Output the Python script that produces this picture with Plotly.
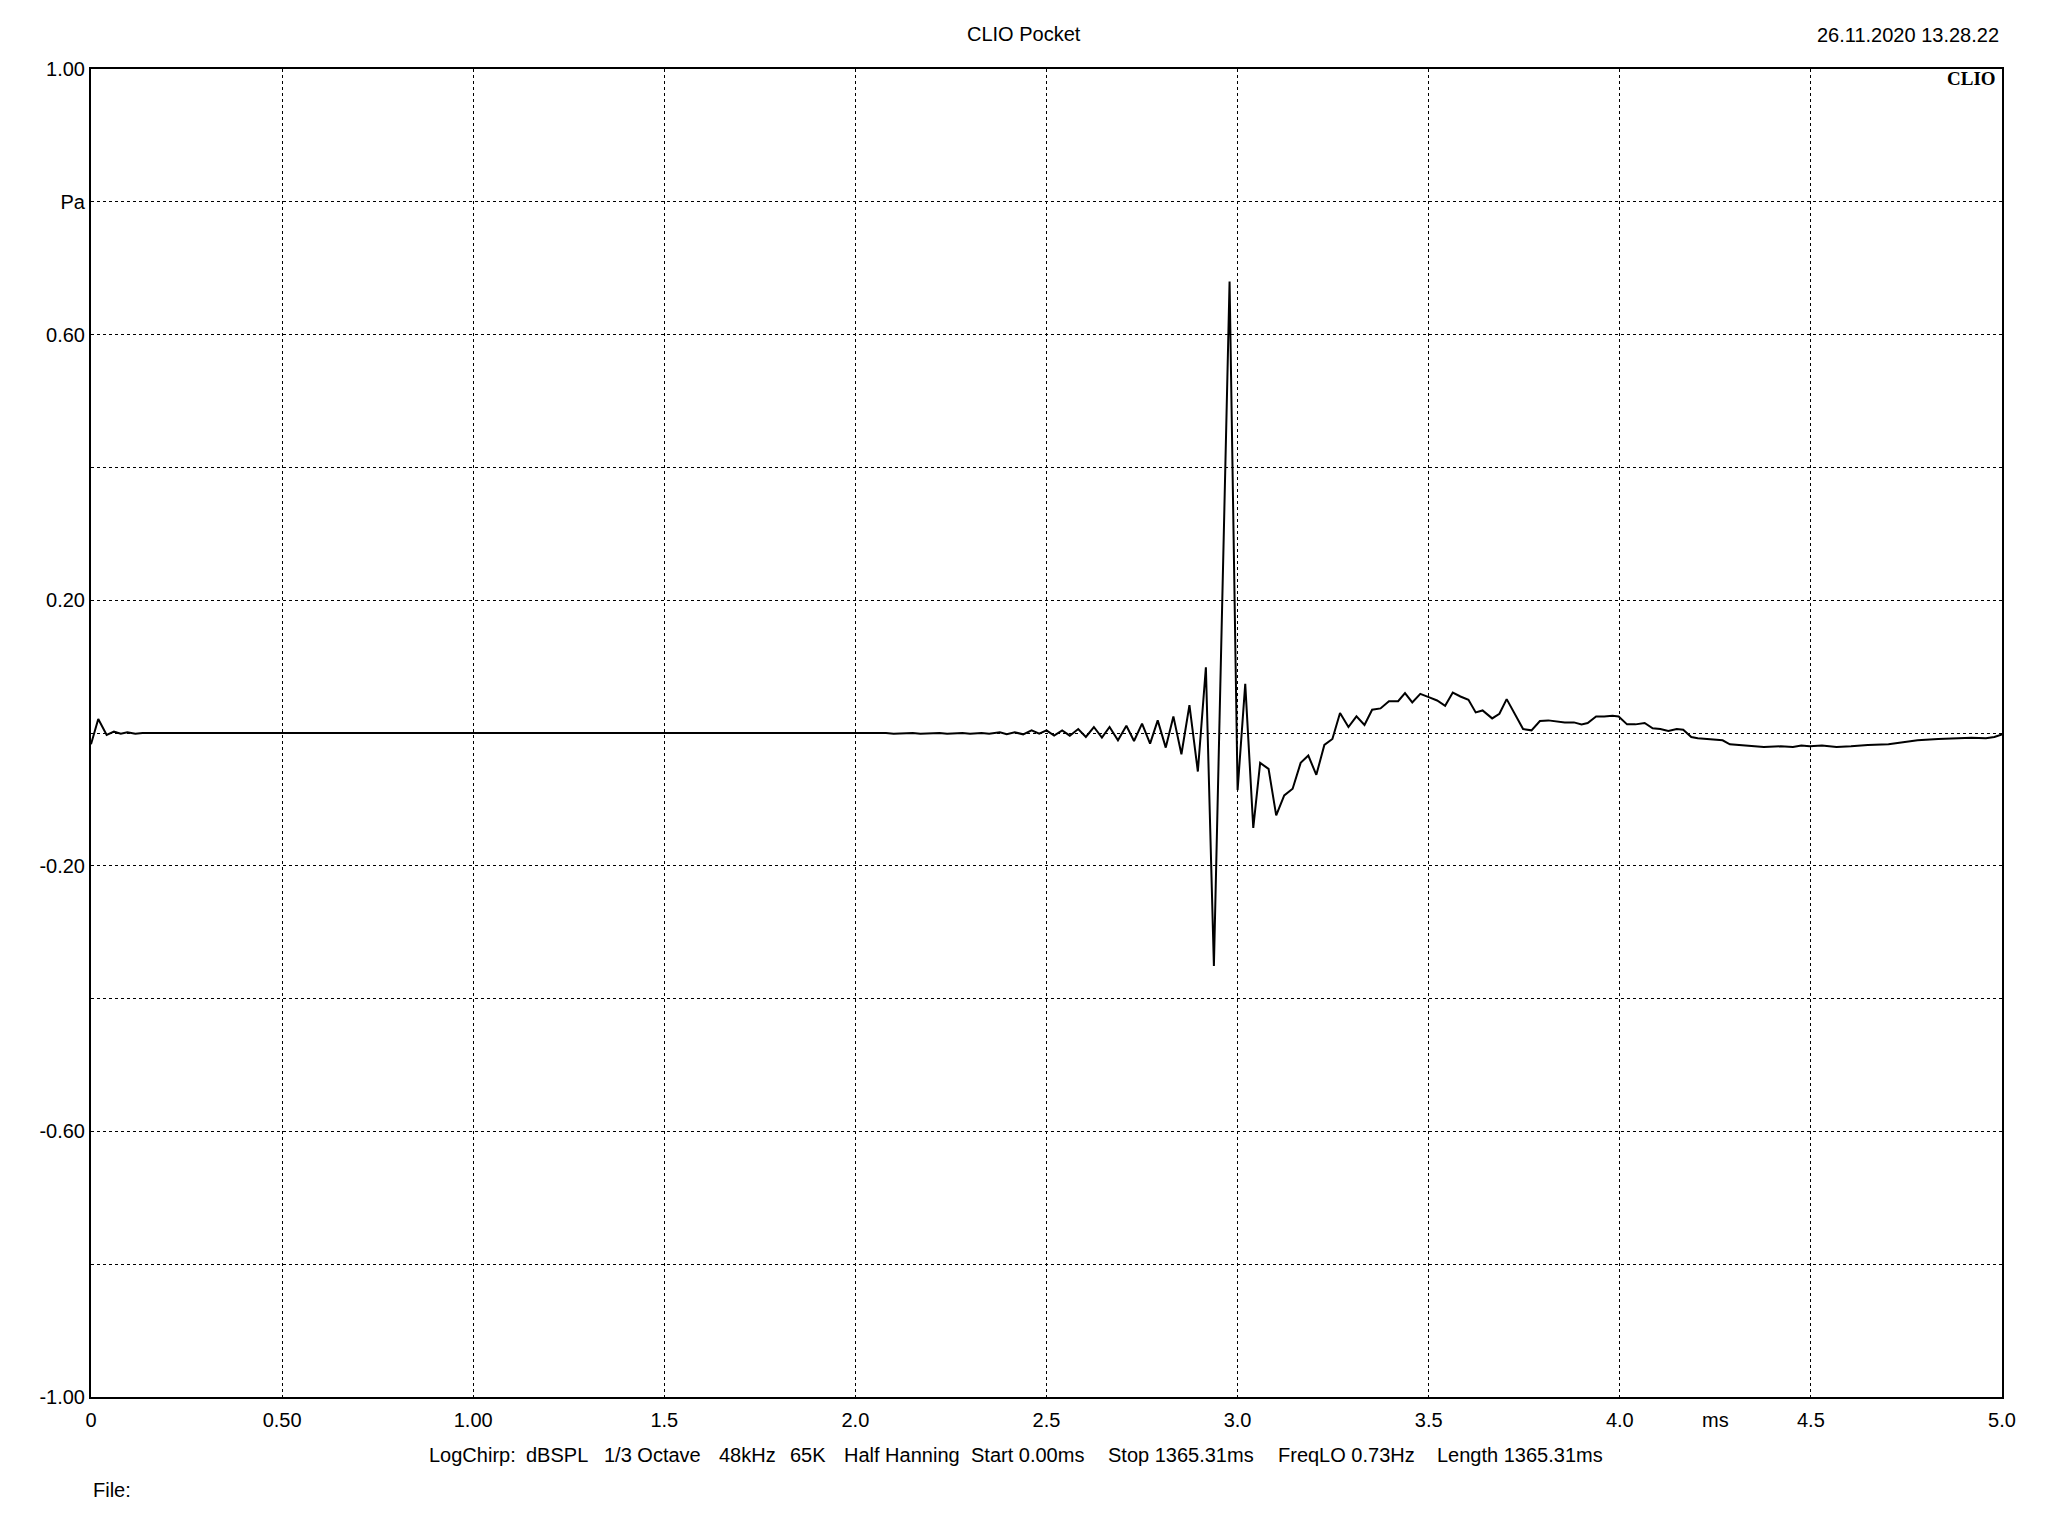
import plotly.graph_objects as go

# ---- data ----
time_ms = [0.000, 0.019, 0.041, 0.060, 0.078, 0.095, 0.116, 0.135,
           2.080, 2.100, 2.150, 2.170, 2.220, 2.240, 2.280, 2.300, 2.330, 2.350,
           2.378, 2.396, 2.417, 2.439, 2.461, 2.481, 2.500, 2.520, 2.541, 2.561,
           2.583, 2.603, 2.624, 2.645, 2.665, 2.687, 2.709, 2.729, 2.750, 2.771,
           2.791, 2.812, 2.832, 2.853, 2.874, 2.896, 2.917, 2.938, 2.958, 2.979,
           3.000, 3.020, 3.041, 3.059, 3.081, 3.101, 3.122, 3.144, 3.165, 3.185,
           3.206, 3.227, 3.248, 3.268, 3.290, 3.311, 3.332, 3.352, 3.374, 3.396,
           3.420, 3.438, 3.457, 3.478, 3.500, 3.522, 3.543, 3.563, 3.583, 3.604,
           3.623, 3.641, 3.666, 3.685, 3.704, 3.728, 3.747, 3.769, 3.791, 3.813,
           3.834, 3.856, 3.880, 3.900, 3.916, 3.938, 3.959, 3.981, 3.997, 4.019,
           4.041, 4.065, 4.086, 4.106, 4.127, 4.149, 4.166, 4.187, 4.204, 4.247,
           4.269, 4.288, 4.332, 4.377, 4.421, 4.453, 4.475, 4.497, 4.529, 4.567,
           4.605, 4.649, 4.703, 4.746, 4.779, 4.833, 4.887, 4.920, 4.958, 4.980,
           5.000]
pressure_pa = [-0.017, 0.021, -0.003, 0.002, -0.001, 0.001, -0.001, 0.000,
               0.000, -0.001, 0.000, -0.001, 0.000, -0.001, 0.000, -0.001, 0.000, -0.001,
               0.001, -0.002, 0.001, -0.002, 0.004, -0.001, 0.004, -0.004, 0.004, -0.004,
               0.006, -0.006, 0.009, -0.007, 0.009, -0.011, 0.011, -0.012, 0.014, -0.016,
               0.019, -0.022, 0.025, -0.032, 0.042, -0.058, 0.099, -0.351, 0.152, 0.680,
               -0.086, 0.074, -0.143, -0.045, -0.054, -0.124, -0.094, -0.084, -0.045, -0.034,
               -0.063, -0.018, -0.009, 0.030, 0.009, 0.025, 0.012, 0.035, 0.037, 0.048,
               0.048, 0.060, 0.046, 0.059, 0.054, 0.049, 0.041, 0.061, 0.055, 0.050,
               0.031, 0.034, 0.022, 0.029, 0.051, 0.025, 0.006, 0.004, 0.018, 0.019,
               0.017, 0.016, 0.016, 0.013, 0.015, 0.025, 0.025, 0.026, 0.025, 0.013,
               0.013, 0.015, 0.007, 0.006, 0.003, 0.006, 0.005, -0.006, -0.008, -0.010,
               -0.011, -0.017, -0.019, -0.021, -0.020, -0.021, -0.019, -0.020, -0.019, -0.021,
               -0.020, -0.018, -0.017, -0.013, -0.011, -0.009, -0.008, -0.007, -0.008, -0.006,
               -0.002]

x_tick_vals = [0, 0.5, 1.0, 1.5, 2.0, 2.5, 3.0, 3.5, 4.0, 4.5, 5.0]
x_tick_text = ["0", "0.50", "1.00", "1.5", "2.0", "2.5", "3.0", "3.5", "4.0", "4.5", "5.0"]
y_tick_vals = [1.0, 0.8, 0.6, 0.4, 0.2, 0.0, -0.2, -0.4, -0.6, -0.8, -1.0]
y_tick_text = ["1.00", "Pa", "0.60", "", "0.20", "", "-0.20", "", "-0.60", "", "-1.00"]

title_text = "CLIO Pocket"
date_text = "26.11.2020 13.28.22"
info_segments = ["LogChirp:", "dBSPL", "1/3 Octave", "48kHz", "65K", "Half Hanning",
                 "Start 0.00ms", "Stop 1365.31ms", "FreqLO 0.73Hz", "Length 1365.31ms"]
info_x_px = [427, 523.5, 602, 716.5, 788, 841.5, 969, 1106, 1275.5, 1434.5]

# ---- layout geometry (page pixel coords; the page body has an 8px margin) ----
OFF = 8
W, H = 2048 - 2 * OFF, 1536 - 2 * OFF
L, R, T, B = 91, 2002, 69, 1397
FONT = "Liberation Sans, Arial, sans-serif"


def px(x):
    return (x - L) / (R - L)


def py(y):
    return (B - y) / (B - T)


fig = go.Figure()
fig.add_trace(go.Scatter(x=time_ms, y=pressure_pa, mode="lines",
                         line=dict(color="black", width=2), hoverinfo="skip",
                         showlegend=False))

grid_common = dict(showgrid=True, gridcolor="black", gridwidth=1, griddash="3px,3px",
                   zeroline=False, showline=True, linecolor="black", linewidth=2,
                   mirror=True, ticks="", tickfont=dict(family=FONT, size=20, color="black"))

fig.update_xaxes(range=[0, 5], tickmode="array", tickvals=x_tick_vals, ticktext=x_tick_text,
                 ticklabelstandoff=4, **grid_common)
fig.update_yaxes(range=[-1, 1], tickmode="array", tickvals=y_tick_vals, ticktext=y_tick_text,
                 ticklabelstandoff=0, **grid_common)

annotations = [
    dict(text=title_text, x=px(1024), y=py(34), xref="paper", yref="paper",
         xanchor="center", yanchor="middle", showarrow=False,
         font=dict(family=FONT, size=20, color="black")),
    dict(text=date_text, x=px(2001), y=py(35), xref="paper", yref="paper",
         xanchor="right", yanchor="middle", showarrow=False,
         font=dict(family=FONT, size=20, color="black")),
    dict(text="<b>CLIO</b>", x=px(1998), y=py(79), xref="paper", yref="paper",
         xanchor="right", yanchor="middle", showarrow=False,
         font=dict(family="Liberation Serif, Times New Roman, serif", size=19, color="black")),
    dict(text="ms", x=4.25, xref="x", y=py(1420), yref="paper",
         xanchor="center", yanchor="middle", showarrow=False,
         font=dict(family=FONT, size=20, color="black")),
    dict(text="File:", x=px(91), y=py(1490), xref="paper", yref="paper",
         xanchor="left", yanchor="middle", showarrow=False,
         font=dict(family=FONT, size=20, color="black")),
]
for seg, sx in zip(info_segments, info_x_px):
    annotations.append(dict(text=seg, x=px(sx), y=py(1455), xref="paper", yref="paper",
                            xanchor="left", yanchor="middle", showarrow=False,
                            font=dict(family=FONT, size=20, color="black")))

fig.update_layout(width=W, height=H,
                  margin=dict(l=L - OFF, r=(W + OFF) - R, t=T - OFF, b=(H + OFF) - B),
                  paper_bgcolor="white", plot_bgcolor="white",
                  font=dict(family=FONT, size=20, color="black"),
                  annotations=annotations)

fig.write_html("out.html")
